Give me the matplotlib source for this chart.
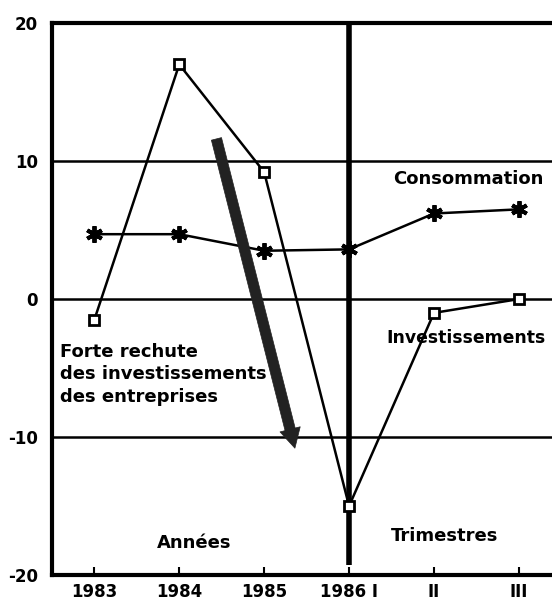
import matplotlib
matplotlib.use("Agg")
from matplotlib import pyplot as plt

# data
periods = ["1983", "1984", "1985", "1986 I", "II", "III"]
investissements = [-1.5, 17.0, 9.2, -15.0, -1.0, 0.0]
consommation = [4.7, 4.7, 3.5, 3.6, 6.2, 6.5]
y_ticks = [20, 10, 0, -10, -20]

plt.rcParams["font.family"] = ["DejaVu Sans"]
plt.rcParams["font.weight"] = "bold"

fig = plt.figure(figsize=(5.52, 6.06), dpi=100)
ax = fig.add_axes([0.094, 0.051, 0.906, 0.911])

x = list(range(len(periods)))

# grid lines
for v in [10, 0, -10]:
    ax.axhline(v, color="black", lw=1.8, zorder=1)
# separator years / quarters
ax.plot([3, 3], [-19.3, 20], color="black", lw=4, zorder=2, solid_capstyle="butt")

ax.plot(x, investissements, color="black", lw=1.8, marker="s", ms=7,
        mfc="white", mec="black", mew=2, zorder=3)
ax.plot(x, consommation, color="black", lw=1.8, marker=(6, 2, 0), ms=12,
        mew=2.8, mec="black", zorder=3)

# big arrow
ax.annotate("", xy=(2.37, -11.0), xytext=(1.43, 11.8),
            arrowprops=dict(arrowstyle="simple,head_length=1.4,head_width=1.5,tail_width=0.75",
                            color="#222222", lw=0.5), zorder=4)

fs = 13
ax.text(3.52, 8.7, "Consommation", fontsize=fs, ha="left", va="center")
ax.text(3.44, -2.8, "Investissements", fontsize=12.4, ha="left", va="center")
ax.text(-0.41, -3.2, "Forte rechute\ndes investissements\ndes entreprises",
        fontsize=fs, ha="left", va="top", linespacing=1.3)
ax.text(1.17, -17.7, "Années", fontsize=fs, ha="center", va="center")
ax.text(4.12, -17.2, "Trimestres", fontsize=fs, ha="center", va="center")

ax.set_xlim(-0.5, 5.39)
ax.set_ylim(-20, 20)
ax.set_xticks(x)
ax.set_xticklabels(periods, fontsize=12)
ax.set_yticks(y_ticks)
ax.set_yticklabels([str(v) for v in y_ticks], fontsize=12)
ax.tick_params(axis="x", direction="in", length=6, width=1.5, pad=6)
ax.tick_params(axis="y", length=0, pad=10)

for side in ["left", "bottom", "top"]:
    ax.spines[side].set_linewidth(3)
ax.spines["right"].set_visible(False)

fig.savefig("out.png", dpi=100)
